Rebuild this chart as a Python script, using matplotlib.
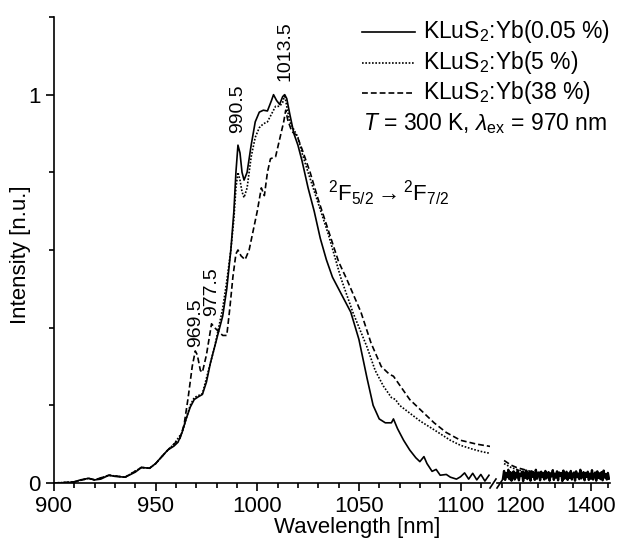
import numpy as np
import matplotlib
matplotlib.use("Agg")
import matplotlib.pyplot as plt
from matplotlib.lines import Line2D

plt.rcParams['font.family'] = ['Liberation Sans', 'DejaVu Sans']
plt.rcParams['mathtext.fontset'] = 'custom'
plt.rcParams['mathtext.rm'] = 'Liberation Sans'
plt.rcParams['mathtext.it'] = 'Liberation Sans:italic'

# KLuS2:Yb(0.05 %)
wl_a = [900, 905, 910, 913, 917, 920, 923, 927, 930, 935, 940, 943, 947, 950, 953, 956,
        959, 961, 963, 965, 967, 969, 971, 973, 975, 977, 979, 981, 983, 985, 987, 988.5,
        989.5, 990.5, 991.5, 992.5, 993.5, 995, 997, 999, 1001, 1003, 1005, 1007, 1008,
        1009.5, 1011, 1012.5, 1013.5, 1014.5, 1016, 1018, 1020, 1022, 1025, 1028, 1031,
        1034, 1037, 1040, 1043, 1046, 1050, 1054, 1057, 1060, 1063, 1066, 1067, 1069,
        1072, 1075, 1078, 1080, 1082, 1083.5, 1086, 1088, 1090, 1093, 1095, 1098, 1100,
        1102, 1104, 1106, 1108, 1110, 1112, 1114]
int_a = [0.0, 0.0, 0.003, 0.008, 0.012, 0.008, 0.01, 0.02, 0.017, 0.015, 0.028, 0.04,
         0.038, 0.05, 0.068, 0.085, 0.095, 0.105, 0.13, 0.165, 0.195, 0.215, 0.222, 0.228,
         0.26, 0.31, 0.35, 0.39, 0.43, 0.5, 0.6, 0.7, 0.8, 0.87, 0.85, 0.8, 0.78, 0.8, 0.87,
         0.93, 0.955, 0.96, 0.958, 0.985, 1.0, 0.985, 0.975, 0.995, 1.0, 0.99, 0.95, 0.9,
         0.87, 0.83, 0.76, 0.7, 0.63, 0.575, 0.53, 0.5, 0.47, 0.44, 0.37, 0.27, 0.2, 0.165,
         0.155, 0.155, 0.165, 0.14, 0.11, 0.085, 0.065, 0.055, 0.068, 0.05, 0.03, 0.035,
         0.02, 0.022, 0.015, 0.01, 0.016, 0.026, 0.01, 0.025, 0.008, 0.022, 0.005, 0.02]

# KLuS2:Yb(5 %)
wl_b = [900, 910, 917, 920, 927, 935, 943, 947, 950, 956, 959, 963, 965, 967, 969, 971,
        973, 975, 977, 979, 981, 983, 985, 987, 988.5, 989.5, 990.5, 991.5, 992.5, 993.5,
        995, 997, 999, 1001, 1003, 1005, 1007, 1009, 1011, 1012.5, 1013.5, 1014.5, 1016,
        1018, 1020, 1022, 1025, 1030, 1035, 1041, 1047, 1054, 1058, 1062, 1066, 1068,
        1070, 1075, 1080, 1087, 1095, 1100, 1106, 1111, 1115]
int_b = [0.0, 0.003, 0.012, 0.008, 0.02, 0.015, 0.04, 0.038, 0.05, 0.085, 0.1, 0.13,
         0.165, 0.2, 0.22, 0.225, 0.23, 0.27, 0.31, 0.35, 0.4, 0.45, 0.52, 0.6, 0.68, 0.76,
         0.8, 0.78, 0.75, 0.735, 0.76, 0.84, 0.89, 0.915, 0.925, 0.93, 0.95, 0.97, 0.97,
         0.98, 1.0, 0.97, 0.93, 0.91, 0.89, 0.85, 0.8, 0.72, 0.64, 0.53, 0.44, 0.35, 0.29,
         0.25, 0.22, 0.215, 0.2, 0.18, 0.16, 0.137, 0.11, 0.097, 0.087, 0.08, 0.076]

# KLuS2:Yb(38 %)
wl_c = [900, 910, 917, 920, 927, 935, 943, 947, 950, 956, 959, 962, 964, 966, 968, 969.5,
        970.5, 972, 973, 975, 977.5, 979, 981, 983, 985, 986.5, 988, 989.5, 990.5, 992,
        994, 996, 998, 1000, 1002, 1003.5, 1005, 1006.5, 1009, 1011, 1013, 1014, 1015,
        1017, 1019.5, 1022, 1026, 1030, 1035, 1040, 1044, 1051, 1056, 1061, 1065, 1067,
        1069, 1075, 1081, 1087, 1093, 1100, 1108, 1116]
int_c = [0.0, 0.003, 0.012, 0.008, 0.02, 0.015, 0.04, 0.038, 0.05, 0.085, 0.1, 0.115,
         0.15, 0.22, 0.3, 0.34, 0.33, 0.29, 0.285, 0.33, 0.41, 0.4, 0.39, 0.38, 0.38, 0.45,
         0.53, 0.59, 0.6, 0.585, 0.575, 0.6, 0.65, 0.7, 0.76, 0.74, 0.8, 0.835, 0.84, 0.885,
         0.93, 0.96, 0.935, 0.905, 0.895, 0.86, 0.8, 0.73, 0.65, 0.57, 0.525, 0.44, 0.36,
         0.3, 0.28, 0.275, 0.26, 0.215, 0.185, 0.155, 0.13, 0.11, 0.1, 0.093]

# long-wavelength part (after the axis break)
wl_b2 = [1155, 1165, 1175, 1190, 1210, 1230, 1250, 1280]
int_b2 = [0.05, 0.045, 0.04, 0.035, 0.03, 0.027, 0.025, 0.022]
wl_c2 = [1155, 1165, 1175, 1190, 1210, 1230, 1250, 1280]
int_c2 = [0.058, 0.052, 0.046, 0.04, 0.035, 0.03, 0.027, 0.024]
int_a2 = [0.012, 0.031, 0.008, 0.025, 0.015, 0.034, 0.01, 0.028, 0.006, 0.022, 0.03, 0.009,
          0.026, 0.014, 0.033, 0.007, 0.024, 0.018, 0.029, 0.005, 0.027, 0.013, 0.032, 0.01,
          0.021, 0.028, 0.006, 0.03, 0.016, 0.025, 0.008, 0.034, 0.011, 0.023, 0.027, 0.007,
          0.029, 0.015, 0.026, 0.009, 0.031, 0.012, 0.02, 0.028, 0.006, 0.025, 0.017, 0.033,
          0.008, 0.024, 0.014, 0.03, 0.007, 0.027, 0.019, 0.026, 0.005, 0.032, 0.011, 0.022,
          0.029, 0.008, 0.025, 0.013, 0.031, 0.009, 0.023, 0.027, 0.006, 0.03, 0.015, 0.024,
          0.01, 0.034, 0.012, 0.021, 0.028, 0.007, 0.026, 0.016, 0.029, 0.008, 0.024, 0.011,
          0.033, 0.009, 0.022, 0.027, 0.006, 0.03, 0.013, 0.025, 0.01, 0.028, 0.007, 0.032,
          0.014, 0.023, 0.009, 0.026, 0.011]
wl_a2 = np.linspace(1152, 1452, len(int_a2))

labels = ['KLuS$_2$:Yb(0.05 %)', 'KLuS$_2$:Yb(5 %)', 'KLuS$_2$:Yb(38 %)']
peaks = [(969.5, 0.35), (977.5, 0.43), (990.5, 0.9), (1013.5, 1.035)]

W, H = 619, 543
fig = plt.figure(figsize=(W / 100, H / 100), dpi=100)
ax1 = fig.add_axes([54 / W, (H - 483) / H, (490 - 54) / W, (483 - 17) / H])
ax2 = fig.add_axes([497 / W, (H - 483) / H, (610 - 497) / W, (483 - 17) / H])

styles = ['-', (0, (1, 1)), (0, (3.5, 1.8))]
lw = 1.2
for ax in (ax1, ax2):
    for s in ['top', 'right']:
        ax.spines[s].set_visible(False)
    ax.set_ylim(0, 1.2)
    ax.tick_params(direction='out', labelsize=16, length=6, width=1.2)
    ax.tick_params(which='minor', direction='out', length=3.5, width=1.2)
    ax.spines['bottom'].set_linewidth(1.2)
    ax.spines['left'].set_linewidth(1.2)

ax1.plot(wl_a, int_a, color='black', ls=styles[0], lw=lw)
ax1.plot(wl_b, int_b, color='black', ls=styles[1], lw=lw)
ax1.plot(wl_c, int_c, color='black', ls=styles[2], lw=lw)
ax1.set_xlim(900, 1114.5)
ax1.set_xticks([900, 950, 1000, 1050, 1100])
ax1.set_xticks(np.arange(910, 1111, 10), minor=True)
ax1.set_yticks([0, 1])
ax1.set_yticklabels(['0', '1'])
ax1.set_yticks([0.2, 0.4, 0.6, 0.8, 1.2], minor=True)
ax1.set_ylabel('Intensity [n.u.]', fontsize=16)
ax1.yaxis.set_label_coords(-0.052, 0.49)

ax2.plot(wl_a2, int_a2, color='black', ls='-', lw=1.7)
ax2.plot(wl_b2, int_b2, color='black', ls=styles[1], lw=lw)
ax2.plot(wl_c2, int_c2, color='black', ls=styles[2], lw=lw)
ax2.set_xlim(1135, 1455)
ax2.set_xticks([1200, 1400])
ax2.set_xticks([1150, 1250, 1300, 1350, 1450], minor=True)
ax2.spines['left'].set_visible(False)
ax2.set_yticks([])
ax2.patch.set_alpha(0)

# break marks
for x0 in (490, 497):
    fig.add_artist(Line2D([x0 / W, (x0 + 6) / W], [(H - 488) / H, (H - 479) / H],
                          color='black', lw=1.2))

for x, y in peaks:
    ax1.text(x, y, str(x), rotation=90, ha='center', va='bottom', fontsize=14)

ax1.text(1035, 0.745, r'$^{2}$F$_{5/2}$$\rightarrow$$^{2}$F$_{7/2}$', fontsize=16,
         ha='left', va='center')

# legend rows drawn by hand
for i, (st, lab) in enumerate(zip(styles, labels)):
    yl = 1 - (32 + 30.5 * i) / H
    fig.add_artist(Line2D([362 / W, 415 / W], [yl, yl], color='black', ls=st, lw=lw))
    fig.text(423 / W, 1 - (38 + 30.5 * i) / H, lab, fontsize=16.5, ha='left', va='baseline')
fig.text(607 / W, 1 - 130 / H, r'$T$ = 300 K, $\lambda_{\mathrm{ex}}$ = 970 nm',
         fontsize=16.5, ha='right', va='baseline')

fig.text(357 / W, 1 - 528 / H, 'Wavelength [nm]', fontsize=16, ha='center', va='center')

fig.savefig('out.png', dpi=100)
